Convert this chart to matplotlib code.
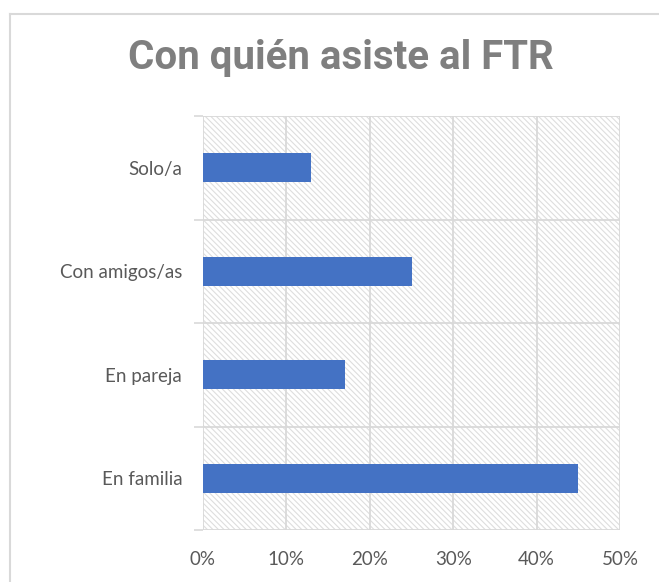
import numpy as np
import matplotlib.pyplot as plt
from matplotlib.lines import Line2D

plt.rcParams['hatch.color'] = '#dedede'
plt.rcParams['hatch.linewidth'] = 0.8

# datos
categorias = ["En familia", "En pareja", "Con amigos/as", "Solo/a"]
porcentajes = [45, 17, 25, 13]
ticks_x = [0, 10, 20, 30, 40, 50]

gris_grid = '#d9d9d9'
gris_txt = '#595959'

fig = plt.figure(figsize=(6.59, 5.82), dpi=100)
ax = fig.add_axes([203/659, 1-530/582, 417/659, 414/582])

ax.patch.set_facecolor('white')
ax.patch.set_hatch('\\\\\\\\\\\\')
ax.patch.set_edgecolor('#dedede')
ax.patch.set_linewidth(0)

y = np.arange(len(categorias)) + 0.5
ax.barh(y, porcentajes, height=0.28, color='#4472c4', zorder=3)

ax.set_xlim(0, 50)
ax.set_ylim(0, len(categorias))
ax.set_xticks(ticks_x)
ax.set_xticklabels([f"{t}%" for t in ticks_x])
ax.set_yticks(y)
ax.set_yticklabels(categorias)
ax.set_yticks(np.arange(len(categorias) + 1), minor=True)

for s in ax.spines.values():
    s.set_visible(False)

ax.tick_params(axis='x', length=0, pad=15, labelsize=13.5, labelcolor=gris_txt)
ax.tick_params(axis='y', which='major', length=0, pad=15, labelsize=13.5, labelcolor=gris_txt)
ax.tick_params(axis='y', which='minor', length=6.5, width=1.2, color=gris_grid)

ax.grid(axis='x', color=gris_grid, linewidth=1.3, zorder=1)
ax.grid(axis='y', which='minor', color=gris_grid, linewidth=1.3, zorder=1)
ax.set_axisbelow(True)

for lab in ax.get_xticklabels() + ax.get_yticklabels():
    lab.set_family('Lato')

fig.text(341/659, 1-58/582, "Con quién asiste al FTR", ha='center', va='center',
         fontsize=29, fontweight='bold', color='#7f7f7f', family='Roboto')

# borde del gráfico
fig.add_artist(Line2D([10/659, 1], [1-14/582, 1-14/582], color=gris_grid, linewidth=1.5))
fig.add_artist(Line2D([10/659, 10/659], [0, 1-14/582], color=gris_grid, linewidth=1.5))

fig.savefig("out.png", dpi=100)
